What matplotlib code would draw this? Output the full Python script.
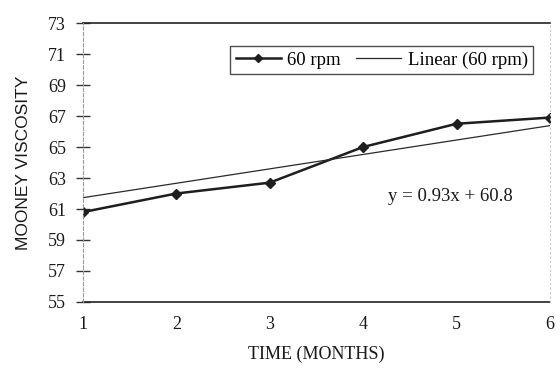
import matplotlib.pyplot as plt
import numpy as np

months = [1, 2, 3, 4, 5, 6]
viscosity = [60.8, 62.0, 62.7, 65.0, 66.5, 66.9]
fit_slope = 0.93
fit_intercept = 60.8
y_ticks = [55, 57, 59, 61, 63, 65, 67, 69, 71, 73]

plt.rcParams['font.family'] = 'Liberation Serif'

fig = plt.figure(figsize=(5.6, 3.69), dpi=100)
ax = fig.add_axes([0.148, 0.1816, 0.834, 0.756])

trend_x = np.array([months[0], months[-1]])
trend_y = fit_slope * trend_x + fit_intercept

ax.plot(months, viscosity, color='#1e1e1e', lw=1.8, marker='D', ms=5,
        label='60 rpm')
ax.plot(trend_x, trend_y, color='#2a2a2a', lw=0.9, label='Linear (60 rpm)')

ax.set_xlim(1, 6)
ax.set_ylim(55, 73)
ax.set_yticks(y_ticks)
ax.set_xticks(months)

# horizontal frame lines at the top and bottom of the range
ax.axhline(73, color='#222222', lw=1.2, clip_on=False)
ax.axhline(55, color='#222222', lw=1.2, clip_on=False)

for side in ['top', 'bottom']:
    ax.spines[side].set_visible(False)
ax.spines['left'].set_color('#9a9a9a')
ax.spines['left'].set_linestyle((0, (3, 2)))
ax.spines['left'].set_linewidth(0.8)
ax.spines['right'].set_color('#c8c8c8')
ax.spines['right'].set_linestyle((0, (1, 3)))
ax.spines['right'].set_linewidth(0.8)

ax.tick_params(axis='y', direction='inout', length=10, width=1,
               color='#333333', labelsize=13, pad=7, labelcolor='#1a1a1a')
ax.tick_params(axis='x', length=0, labelsize=13, pad=10, labelcolor='#1a1a1a')

ax.set_xlabel('TIME (MONTHS)', fontsize=13, color='#1a1a1a', labelpad=9)
ax.set_ylabel('MOONEY VISCOSITY', fontsize=12.5, color='#1a1a1a',
              family='Liberation Sans', labelpad=12)

ax.text(4.27, 61.8, 'y = 0.93x + 60.8', fontsize=13.5, color='#1a1a1a',
        va='center', ha='left')

leg = ax.legend(loc='center', bbox_to_anchor=(0.64, 0.867), ncol=2,
                fontsize=13.5, frameon=True, fancybox=False, handlelength=2.4,
                columnspacing=0.8, handletextpad=0.35, borderpad=0.3,
                markerscale=0.8)
leg.get_frame().set_edgecolor('#222222')
leg.get_frame().set_linewidth(1.0)

fig.savefig('out.png', dpi=100)
